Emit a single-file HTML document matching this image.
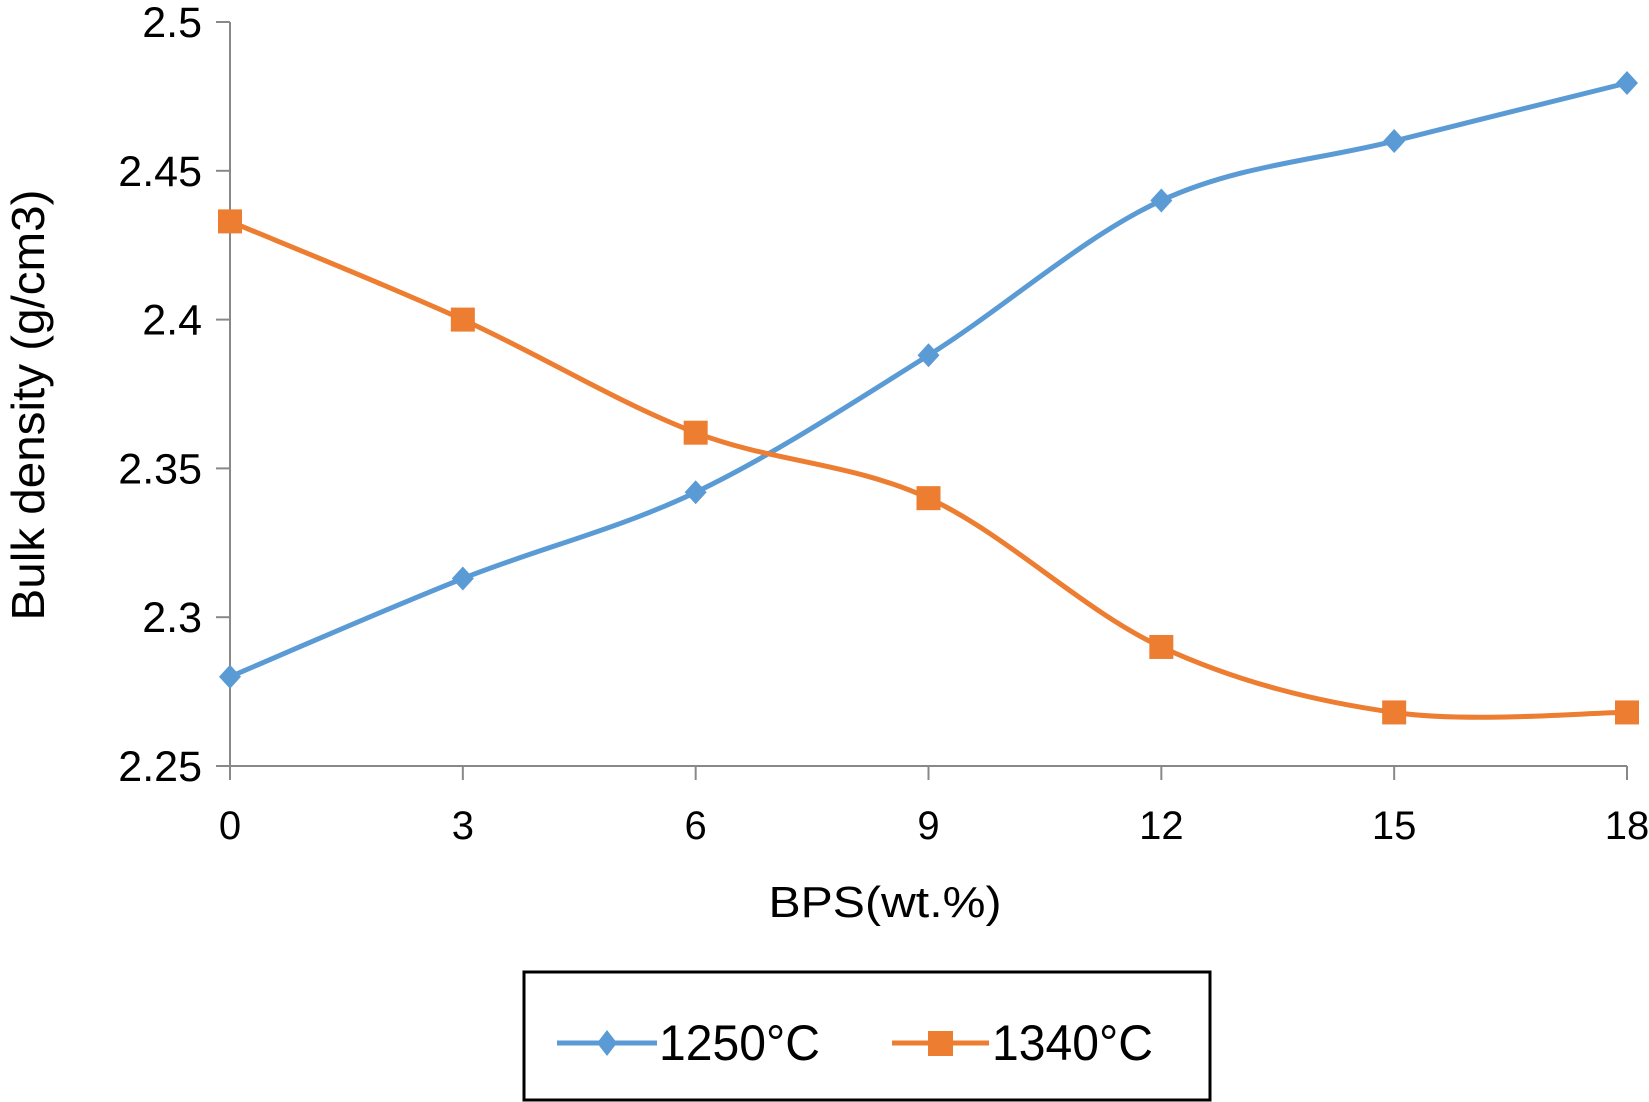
<!DOCTYPE html>
<html><head><meta charset="utf-8"><style>
html,body{margin:0;padding:0;background:#fff;}
svg{display:block;font-family:"Liberation Sans",sans-serif;}
</style></head><body>
<svg id="chart" width="1649" height="1102" viewBox="0 0 1649 1102">
<g id="axes"></g>
<g id="series"></g>
<text x="885" y="917" font-size="44" text-anchor="middle" textLength="233" lengthAdjust="spacingAndGlyphs" fill="#000">BPS(wt.%)</text>
<text transform="translate(44,405) rotate(-90)" font-size="46" text-anchor="middle" textLength="431" lengthAdjust="spacingAndGlyphs" fill="#000">Bulk density (g/cm3)</text>
<g>
<rect x="524" y="972" width="686" height="128" fill="#fff" stroke="#000" stroke-width="3"/>
<g>
<line x1="557" y1="1043" x2="657" y2="1043" stroke="#5b9bd5" stroke-width="5"/>
<polygon points="607,1030 617,1043 607,1056 597,1043" fill="#5b9bd5"/>
<text x="659" y="1060" font-size="50" textLength="161" lengthAdjust="spacingAndGlyphs" fill="#000">1250°C</text>
</g>
<g>
<line x1="892" y1="1043" x2="989" y2="1043" stroke="#ed7d31" stroke-width="5"/>
<rect x="928" y="1031" width="25" height="25" fill="#ed7d31"/>
<text x="992" y="1060" font-size="50" textLength="161" lengthAdjust="spacingAndGlyphs" fill="#000">1340°C</text>
</g>
</g>
</svg>
<script>
const categories = [0, 3, 6, 9, 12, 15, 18];
const series1250 = [2.280, 2.313, 2.342, 2.388, 2.440, 2.460, 2.4795];
const series1340 = [2.433, 2.400, 2.362, 2.340, 2.290, 2.268, 2.268];
const yTicks = [2.25, 2.3, 2.35, 2.4, 2.45, 2.5];
const yTickLabels = ["2.25", "2.3", "2.35", "2.4", "2.45", "2.5"];

const NS = "http://www.w3.org/2000/svg";
const X0 = 230, X1 = 1627, Y0 = 766, Y1 = 22;
const xMin = 0, xMax = 18, yMin = 2.25, yMax = 2.5;
function xs(v){ return X0 + (v - xMin) / (xMax - xMin) * (X1 - X0); }
function ys(v){ return Y0 - (v - yMin) / (yMax - yMin) * (Y0 - Y1); }
function mk(tag, attrs, parent){
  const e = document.createElementNS(NS, tag);
  for (const k in attrs) e.setAttribute(k, attrs[k]);
  parent.appendChild(e);
  return e;
}
const axes = document.getElementById("axes");
let yl = mk("line", {x1: X0, y1: Y1, x2: X0, y2: Y0 + 8, stroke: "#888", "stroke-width": 2}, axes);


let xl = mk("line", {x1: X0, y1: Y0, x2: X1, y2: Y0, stroke: "#888", "stroke-width": 2}, axes);


yTicks.forEach((t, i) => {
  const y = ys(t);
  const tk = mk("line", {x1: X0 - 14, y1: y, x2: X0, y2: y, stroke: "#888", "stroke-width": 2}, axes);
  
  
  const tx = mk("text", {x: 202, y: y + 15, "font-size": 43, "text-anchor": "end", fill: "#000"}, axes);
  tx.textContent = yTickLabels[i];
  
  
});
categories.forEach((c) => {
  const x = xs(c);
  const tk = mk("line", {x1: x, y1: Y0, x2: x, y2: Y0 + 14, stroke: "#888", "stroke-width": 2}, axes);
  
  
  const tx = mk("text", {x: x, y: 839, "font-size": 40, "text-anchor": "middle", fill: "#000"}, axes);
  tx.textContent = String(c);
  
  
});
function smoothPath(pts){
  let d = "M" + pts[0][0] + "," + pts[0][1];
  for (let i = 0; i < pts.length - 1; i++){
    const p0 = pts[i - 1] || pts[i], p1 = pts[i], p2 = pts[i + 1], p3 = pts[i + 2] || p2;
    const c1x = p1[0] + (p2[0] - p0[0]) / 6, c1y = p1[1] + (p2[1] - p0[1]) / 6;
    const c2x = p2[0] - (p3[0] - p1[0]) / 6, c2y = p2[1] - (p3[1] - p1[1]) / 6;
    d += " C" + c1x + "," + c1y + " " + c2x + "," + c2y + " " + p2[0] + "," + p2[1];
  }
  return d;
}
const sg = document.getElementById("series");
function drawSeries(vals, color, marker, name){
  const g = mk("g", {}, sg);
  
  
  const pts = categories.map((c, i) => [xs(c), ys(vals[i])]);
  const p = mk("path", {d: smoothPath(pts), fill: "none", stroke: color, "stroke-width": 5}, g);
  
  
  pts.forEach((q) => {
    let m;
    if (marker === "diamond"){
      m = mk("polygon", {points: `${q[0]},${q[1]-12} ${q[0]+11},${q[1]} ${q[0]},${q[1]+12} ${q[0]-11},${q[1]}`, fill: color}, g);
    } else {
      m = mk("rect", {x: q[0] - 12, y: q[1] - 12, width: 24, height: 24, fill: color}, g);
    }
    
    
  });
}
drawSeries(series1250, "#5b9bd5", "diamond", "series-1250");
drawSeries(series1340, "#ed7d31", "square", "series-1340");
</script>
</body></html>
